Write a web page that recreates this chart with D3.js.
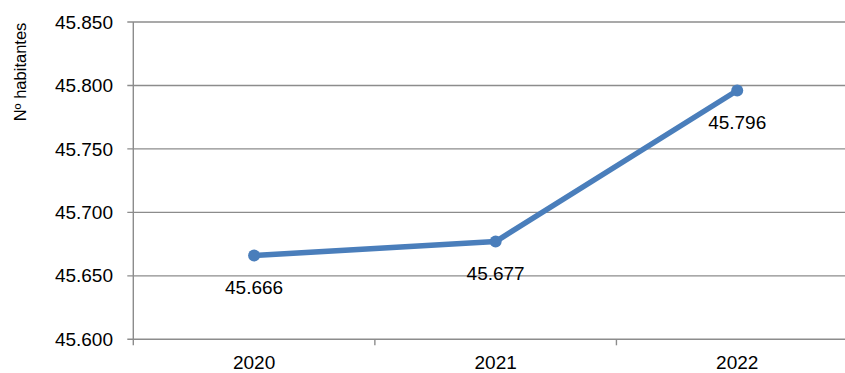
<!DOCTYPE html>
<html><head><meta charset="utf-8">
<script src="https://cdn.jsdelivr.net/npm/d3@7"></script>
<style>body{margin:0;background:#fff}svg{display:block}text{font-family:"Liberation Sans",Arial,sans-serif;fill:#000}</style>
</head><body>
<svg id="c" width="845" height="373"></svg>
<script>
const years = ["2020","2021","2022"];
const population = [45666, 45677, 45796];
const dataLabels = ["45.666","45.677","45.796"];
const yTicks = [45600,45650,45700,45750,45800,45850];
const yTickLabels = ["45.600","45.650","45.700","45.750","45.800","45.850"];
const yTitle = "Nº habitantes";

(function(){
const svg = d3.select("#c");
const mLeft = 133.3, mRight = 858, mTop = 22, mBottom = 339.3;
const x = d3.scaleBand().domain(years).range([mLeft, mRight]).padding(0);
const y = d3.scaleLinear().domain([45600, 45850]).range([mBottom, mTop]);
const grid = "#8c8c8c";

svg.append("g").selectAll("line").data(yTicks).join("line")
  .attr("x1", mLeft - 6).attr("x2", 845)
  .attr("y1", d => y(d)).attr("y2", d => y(d))
  .attr("stroke", grid).attr("stroke-width", 1.4);

svg.append("line").attr("x1", mLeft).attr("x2", mLeft).attr("y1", mTop).attr("y2", mBottom + 6)
  .attr("stroke", grid).attr("stroke-width", 1.4);

svg.append("g").selectAll("line").data(years.slice(1)).join("line")
  .attr("x1", d => x(d)).attr("x2", d => x(d))
  .attr("y1", mBottom).attr("y2", mBottom + 6)
  .attr("stroke", grid).attr("stroke-width", 1.4);

svg.append("g").selectAll("text").data(yTicks).join("text")
  .attr("x", 113).attr("y", d => y(d)).attr("dy", "0.35em")
  .attr("text-anchor", "end").attr("font-size", 19)
  .text((d, i) => yTickLabels[i]);

svg.append("g").selectAll("text").data(years).join("text")
  .attr("x", d => x(d) + x.bandwidth() / 2).attr("y", 362.5).attr("dy", "0.35em")
  .attr("text-anchor", "middle").attr("font-size", 19)
  .text(d => d);

svg.append("text").attr("transform", "translate(20,72) rotate(-90)")
  .attr("text-anchor", "middle").attr("dy", "0.35em").attr("font-size", 16.5)
  .text(yTitle);

const pts = years.map((d, i) => [x(d) + x.bandwidth() / 2, y(population[i])]);
svg.append("path").attr("d", d3.line()(pts))
  .attr("fill", "none").attr("stroke", "#4a7ebb").attr("stroke-width", 5.5)
  .attr("stroke-linejoin", "round");
svg.append("g").selectAll("circle").data(pts).join("circle")
  .attr("cx", d => d[0]).attr("cy", d => d[1]).attr("r", 6)
  .attr("fill", "#4a7ebb");

svg.append("g").selectAll("text").data(pts).join("text")
  .attr("x", d => d[0]).attr("y", d => d[1] + 32).attr("dy", "0.35em")
  .attr("text-anchor", "middle").attr("font-size", 19)
  .text((d, i) => dataLabels[i]);
})();
</script>
</body></html>
